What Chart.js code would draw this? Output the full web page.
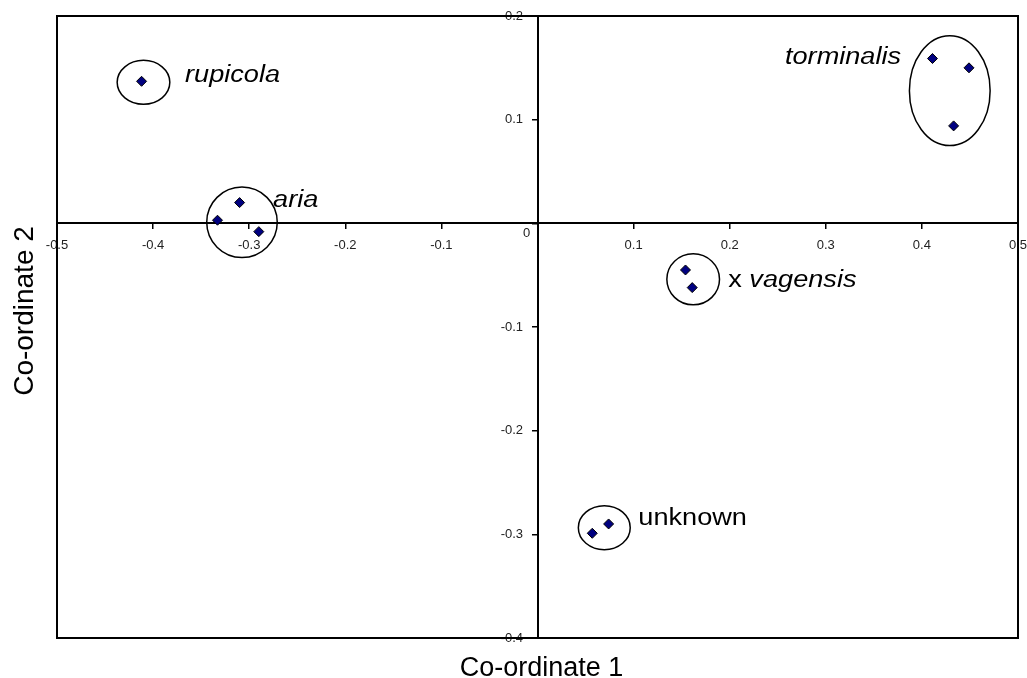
<!DOCTYPE html>
<html>
<head>
<meta charset="utf-8">
<script src="https://cdn.jsdelivr.net/npm/chart.js@4.4.0/dist/chart.umd.min.js"></script>
<style>
    html, body { margin: 0; padding: 0; background: #fff; }
    #wrap { width: 1027px; height: 678px; }
</style>
</head>
<body>
<div id="wrap"><canvas id="chart" width="1027" height="678"></canvas></div>
<script>
//Scores, one pair per group
const rupicolaX = [-0.412];
const rupicolaY = [0.137];
const ariaX = [-0.310, -0.333, -0.290];
const ariaY = [0.020, 0.003, -0.008];
const torminalisX = [0.411, 0.449, 0.433];
const torminalisY = [0.159, 0.150, 0.094];
const vagensisX = [0.154, 0.161];
const vagensisY = [-0.045, -0.062];
const unknownX = [0.057, 0.074];
const unknownY = [-0.299, -0.290];

//Group names, rings round the groups and name anchors (data units)
const groupNames = ['rupicola', 'aria', 'torminalis', 'x vagensis', 'unknown'];
const ringX = [-0.410, -0.3075, 0.429, 0.162, 0.0695];
const ringY = [0.136, 0.001, 0.128, -0.054, -0.2936];
const ringW = [0.0274, 0.0367, 0.042, 0.0274, 0.027];
const ringH = [0.0212, 0.034, 0.053, 0.0246, 0.0212];
const nameX = [-0.3668, -0.2752, 0.2575, 0.1985, 0.1049];
const nameY = [0.1365, 0.0159, 0.1538, -0.0615, -0.2907];

//Ticks
const xTickValues = [-0.5, -0.4, -0.3, -0.2, -0.1, 0, 0.1, 0.2, 0.3, 0.4, 0.5];
const yTickValues = [-0.4, -0.3, -0.2, -0.1, 0, 0.1, 0.2];
const xTitle = 'Co-ordinate 1';
const yTitle = 'Co-ordinate 2';

const FONT = '"Liberation Sans", Arial, sans-serif';

function toPoints(xs, ys) {
    return xs.map(function (x, i) { return {x: x, y: ys[i]}; });
}

function makeSet(label, xs, ys) {
    return {
        label: label,
        data: toPoints(xs, ys),
        pointStyle: 'rectRot',
        pointRadius: 5,
        backgroundColor: '#000080',
        borderColor: '#000',
        borderWidth: 1
    };
}

//Labels sit on the axis line, keep them from pushing the plot area in
function noScalePadding(s) {
    s.paddingLeft = 0;
    s.paddingRight = 0;
    s.paddingTop = 0;
    s.paddingBottom = 0;
}

const decorations = {
    id: 'decorations',
    beforeDatasetsDraw(chart) {
        let ctx = chart.ctx;
        let a = chart.chartArea;
        let xs = chart.scales.x, ys = chart.scales.y;
        ctx.save();
        //Box round the plot
        ctx.strokeStyle = '#000';
        ctx.lineWidth = 2;
        ctx.strokeRect(a.left, a.top, a.right - a.left, a.bottom - a.top);
        //Rings
        ctx.lineWidth = 1.5;
        for (let i = 0; i < ringX.length; i++) {
            let cx = xs.getPixelForValue(ringX[i]);
            let cy = ys.getPixelForValue(ringY[i]);
            let rx = Math.abs(xs.getPixelForValue(ringX[i] + ringW[i]) - cx);
            let ry = Math.abs(ys.getPixelForValue(ringY[i] + ringH[i]) - cy);
            ctx.beginPath();
            ctx.ellipse(cx, cy, rx, ry, 0, 0, Math.PI * 2);
            ctx.stroke();
        }
        //Names
        ctx.fillStyle = '#000';
        ctx.textBaseline = 'alphabetic';
        ctx.textAlign = 'left';
        for (let i = 0; i < groupNames.length; i++) {
            let px = xs.getPixelForValue(nameX[i]);
            let py = ys.getPixelForValue(nameY[i]);
            ctx.save();
            ctx.translate(px, py);
            ctx.scale(1.18, 1);
            let name = groupNames[i];
            if (name.indexOf('x ') === 0) {
                ctx.font = '23px ' + FONT;
                ctx.fillText('x ', 0, 0);
                let w = ctx.measureText('x ').width;
                ctx.font = 'italic 23px ' + FONT;
                ctx.fillText(name.substring(2), w, 0);
            } else if (name === 'unknown') {
                ctx.font = '23px ' + FONT;
                ctx.fillText(name, 0, 0);
            } else {
                ctx.font = 'italic 23px ' + FONT;
                ctx.fillText(name, 0, 0);
            }
            ctx.restore();
        }
        ctx.restore();
    },
    afterDraw(chart) {
        let ctx = chart.ctx;
        let a = chart.chartArea;
        ctx.save();
        ctx.fillStyle = '#000';
        ctx.textAlign = 'center';
        ctx.textBaseline = 'alphabetic';
        ctx.font = '27px ' + FONT;
        ctx.fillText(xTitle, (a.left + a.right) / 2 + 4, a.bottom + 38);
        ctx.translate(33, a.top + 295);
        ctx.rotate(-Math.PI / 2);
        ctx.font = '28px ' + FONT;
        ctx.fillText(yTitle, 0, 0);
        ctx.restore();
    }
};

const tickFont = {family: FONT, size: 13};

new Chart(document.getElementById('chart'), {
    type: 'scatter',
    data: {
        datasets: [
            makeSet('rupicola', rupicolaX, rupicolaY),
            makeSet('aria', ariaX, ariaY),
            makeSet('torminalis', torminalisX, torminalisY),
            makeSet('x vagensis', vagensisX, vagensisY),
            makeSet('unknown', unknownX, unknownY)
        ]
    },
    options: {
        responsive: false,
        animation: false,
        devicePixelRatio: 1,
        layout: {padding: {left: 57, top: 16, right: 9, bottom: 40}},
        plugins: {
            legend: {display: false},
            tooltip: {enabled: false}
        },
        scales: {
            x: {
                type: 'linear',
                position: {y: 0},
                min: -0.5,
                max: 0.5,
                afterBuildTicks: function (s) {
                    s.ticks = xTickValues.map(function (v) { return {value: v}; });
                },
                afterFit: noScalePadding,
                ticks: {
                    autoSkip: false,
                    maxRotation: 0,
                    padding: 9,
                    font: tickFont,
                    color: '#222',
                    callback: function (v) { return v === 0 ? '' : String(v); }
                },
                grid: {drawOnChartArea: false, tickLength: 5, color: '#000', lineWidth: 1.5},
                border: {color: '#000', width: 2}
            },
            y: {
                type: 'linear',
                position: {x: 0},
                min: -0.4,
                max: 0.2,
                afterBuildTicks: function (s) {
                    s.ticks = yTickValues.map(function (v) { return {value: v}; });
                },
                afterFit: noScalePadding,
                ticks: {
                    autoSkip: false,
                    padding: 10,
                    font: {family: FONT, size: 13, lineHeight: 1.5},
                    color: '#222',
                    //trailing spaces keep the labels clear of the tick marks
                    callback: function (v) { return v === 0 ? ['', '0  '] : String(v) + '    '; }
                },
                grid: {drawOnChartArea: false, tickLength: 5, color: '#000', lineWidth: 1.5},
                border: {color: '#000', width: 2}
            }
        }
    },
    plugins: [decorations]
});
</script>
</body>
</html>
